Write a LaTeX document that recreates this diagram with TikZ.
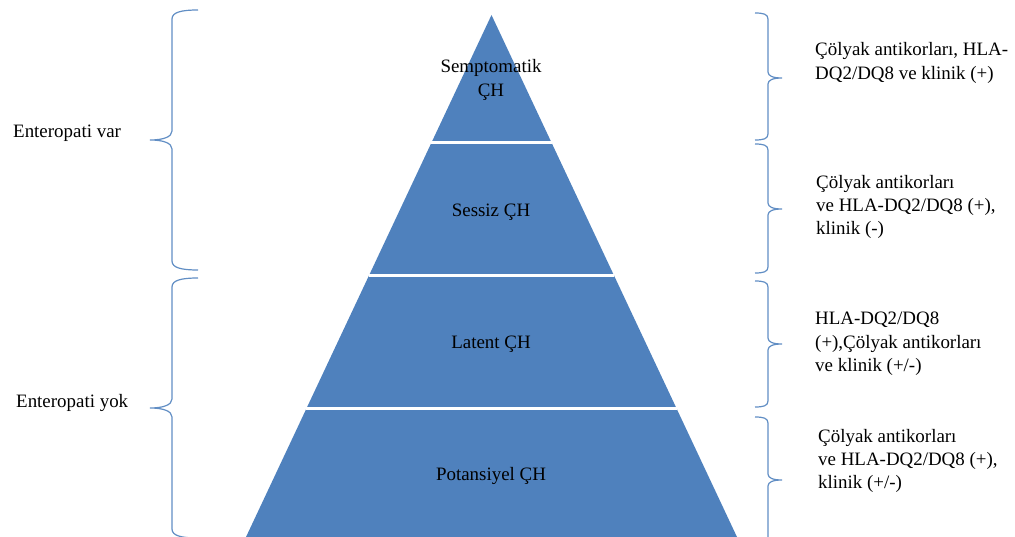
\documentclass[tikz,border=0pt]{standalone}
\usepackage{fontspec}
\setmainfont{Liberation Serif}
\usetikzlibrary{calc}
\definecolor{layerblue}{HTML}{4F81BD}

\begin{document}
\begin{tikzpicture}[x=1bp,y=-1bp,
        layer/.style={fill=layerblue},
        gap/.style={draw=white,line width=3bp},
        bracket/.style={draw=layerblue!90,line width=1.2bp},
        lbl/.style={inner sep=0pt,font=\fontsize{19}{23.4}\selectfont},
        note/.style={lbl,anchor=west,align=left}]
        \useasboundingbox (0,0) rectangle (1015,537);

        % pyramid
        \coordinate (apex) at (491.5,15);
        \coordinate (bl) at (246,537);
        \coordinate (br) at (737,537);
        \fill[layer] (apex) -- (bl) -- (br) -- cycle;
        \draw[gap] ($(apex)!0.245!(bl)$) -- ($(apex)!0.245!(br)$);
        \draw[gap] ($(apex)!0.499!(bl)$) -- ($(apex)!0.499!(br)$);
        \draw[gap] ($(apex)!0.754!(bl)$) -- ($(apex)!0.754!(br)$);

        \node[lbl,align=center] (semp) at (491,80) {Semptomatik\\ÇH};
        \node[lbl] (sessiz) at (491,212) {Sessiz ÇH};
        \node[lbl] (latent) at (491,344) {Latent ÇH};
        \node[lbl] (potan) at (491,476) {Potansiyel ÇH};

        % left braces
        \draw[bracket] (198,10) .. controls (182,10) and (172,12) .. (172,19) -- (172,131)
            .. controls (172,137) and (163,140) .. (150,140) .. controls (163,140) and (172,143) .. (172,149)
            -- (172,261) .. controls (172,268) and (182,270) .. (198,270);
        \draw[bracket] (198,278) .. controls (182,278) and (172,280) .. (172,287) -- (172,399)
            .. controls (172,405) and (163,408) .. (150,408) .. controls (163,408) and (172,411) .. (172,417)
            -- (172,529) .. controls (172,536) and (182,538) .. (198,538);
        \node[note] (var) at (13,133) {Enteropati var};
        \node[note] (yok) at (16,403) {Enteropati yok};

        % right braces
        \draw[bracket] (755,13) .. controls (763,13) and (768,14) .. (768,19) -- (768,72)
            .. controls (768,76) and (773,78) .. (782,78) .. controls (773,78) and (768,80) .. (768,84)
            -- (768,134) .. controls (768,139) and (763,140) .. (755,140);
        \draw[bracket] (755,144) .. controls (763,144) and (768,145) .. (768,150) -- (768,203)
            .. controls (768,207) and (773,209) .. (782,209) .. controls (773,209) and (768,211) .. (768,215)
            -- (768,267) .. controls (768,272) and (763,273) .. (755,273);
        \draw[bracket] (755,281) .. controls (763,281) and (768,282) .. (768,287) -- (768,338)
            .. controls (768,342) and (773,344) .. (782,344) .. controls (773,344) and (768,346) .. (768,350)
            -- (768,401) .. controls (768,406) and (763,407) .. (755,407);
        \draw[bracket] (755,417) .. controls (763,417) and (768,418) .. (768,423) -- (768,474)
            .. controls (768,478) and (773,480) .. (782,480) .. controls (773,480) and (768,482) .. (768,486)
            -- (768,537) .. controls (768,542) and (763,543) .. (755,543);

        \node[note] (n1) at (815,63) {Çölyak antikorları, HLA-\\DQ2/DQ8 ve klinik (+)};
        \node[note] (n2) at (816,207) {Çölyak antikorları\\ve HLA-DQ2/DQ8 (+),\\klinik (-)};
        \node[note] (n3) at (815,344) {HLA-DQ2/DQ8\\(+),Çölyak antikorları\\ve klinik (+/-)};
        \node[note] (n4) at (818,461) {Çölyak antikorları\\ve HLA-DQ2/DQ8 (+),\\klinik (+/-)};
\end{tikzpicture}
\end{document}
